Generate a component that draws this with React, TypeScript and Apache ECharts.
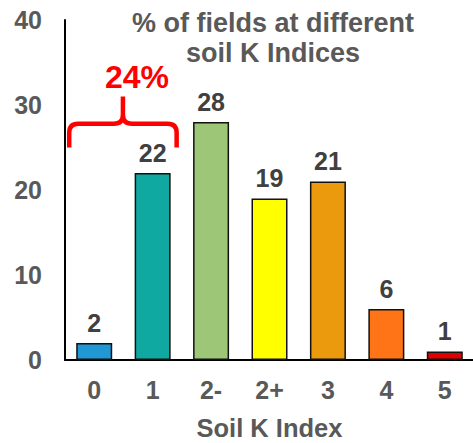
import React, { useEffect, useRef } from "react";
import * as echarts from "echarts";

// Share of fields in each soil potassium (K) index band
const categories = ["0", "1", "2-", "2+", "3", "4", "5"];
const percentages = [2, 22, 28, 19, 21, 6, 1];
const barColors = ["#1f98d4", "#0fa9a1", "#9dc777", "#ffff00", "#ea9a0c", "#fe7416", "#e10000"];
const yTicks = [0, 10, 20, 30, 40];

const FONT = "'Liberation Sans', Arial, sans-serif";
const GRAY = "#595959";

export default function App() {
  const ref = useRef<HTMLDivElement>(null);

  useEffect(() => {
    if (!ref.current) return;
    const chart = echarts.init(ref.current, null, { renderer: "svg" });

    chart.setOption({
      animation: false,
      title: {
        text: "% of fields at different\nsoil K Indices",
        left: 273,
        top: 8,
        padding: 0,
        textAlign: "center",
        textStyle: {
          fontFamily: FONT,
          fontSize: 27,
          fontWeight: "bold",
          color: GRAY,
          lineHeight: 30,
        },
      },
      grid: { left: 65, top: 20, width: 409, height: 340, outerBoundsMode: "none" },
      xAxis: {
        type: "category",
        data: categories,
        axisLine: { lineStyle: { color: "#000", width: 2 } },
        axisTick: { show: false },
        axisLabel: {
          margin: 17,
          fontFamily: FONT,
          fontSize: 25,
          fontWeight: "bold",
          color: GRAY,
        },
        name: "Soil K Index",
        nameLocation: "middle",
        nameGap: 55,
        nameTextStyle: {
          fontFamily: FONT,
          fontSize: 25.5,
          lineHeight: 26,
          fontWeight: "bold",
          color: GRAY,
        },
      },
      yAxis: {
        type: "value",
        min: yTicks[0],
        max: yTicks[yTicks.length - 1],
        interval: 10,
        axisLine: { show: true, lineStyle: { color: "#000", width: 2 } },
        axisTick: { show: false },
        splitLine: { show: false },
        axisLabel: {
          margin: 23,
          fontFamily: FONT,
          fontSize: 25,
          fontWeight: "bold",
          color: GRAY,
        },
      },
      series: [
        {
          type: "bar",
          barWidth: 36,
          data: percentages.map((v, i) => ({
            value: v,
            itemStyle: { color: barColors[i], borderColor: "#111", borderWidth: 1.5 },
          })),
          label: {
            show: true,
            position: "top",
            distance: 8,
            fontFamily: FONT,
            fontSize: 25,
            fontWeight: "bold",
            color: "#404040",
          },
        },
      ],
    });

    // Curly bracket grouping the two lowest index bands, with their combined share
    const lowShare = percentages[0] + percentages[1];
    const [x0] = chart.convertToPixel({ gridIndex: 0 }, [0, 0]);
    const [x1] = chart.convertToPixel({ gridIndex: 0 }, [1, 0]);
    const yOf = (v: number) => chart.convertToPixel({ gridIndex: 0 }, [0, v])[1];
    const xL = x0 - 25;
    const xR = x1 + 24;
    const xM = (xL + xR) / 2;
    const yEnd = yOf(25);
    const yH = yOf(27.8);
    const yTop = yOf(31);
    const r = 9;
    const d =
      `M${xL} ${yEnd} L${xL} ${yH + r} Q${xL} ${yH} ${xL + r} ${yH} ` +
      `L${xM - r} ${yH} Q${xM} ${yH} ${xM} ${yH - r} L${xM} ${yTop} ` +
      `M${xM} ${yH - r} Q${xM} ${yH} ${xM + r} ${yH} ` +
      `L${xR - r} ${yH} Q${xR} ${yH} ${xR} ${yH + r} L${xR} ${yEnd}`;
    echarts.graphic.registerShape("lowBracket", echarts.graphic.extendPath(d, {}));

    chart.setOption({
      graphic: [
        {
          type: "lowBracket",
          x: 0,
          y: 0,
          style: { fill: "none", stroke: "#ff0000", lineWidth: 4.5, lineJoin: "round" },
        },
        {
          type: "text",
          x: xM + 14,
          y: yOf(33.3),
          style: {
            text: `${lowShare}%`,
            fontFamily: FONT,
            fontSize: 32,
            fontWeight: "bold",
            fill: "#ff0000",
            textAlign: "center",
            textVerticalAlign: "middle",
          },
        },
      ],
    });

    return () => chart.dispose();
  }, []);

  return (
    <div
      ref={ref}
      style={{ position: "fixed", left: 0, top: 0, width: 473, height: 443, background: "#fff" }}
    />
  );
}
